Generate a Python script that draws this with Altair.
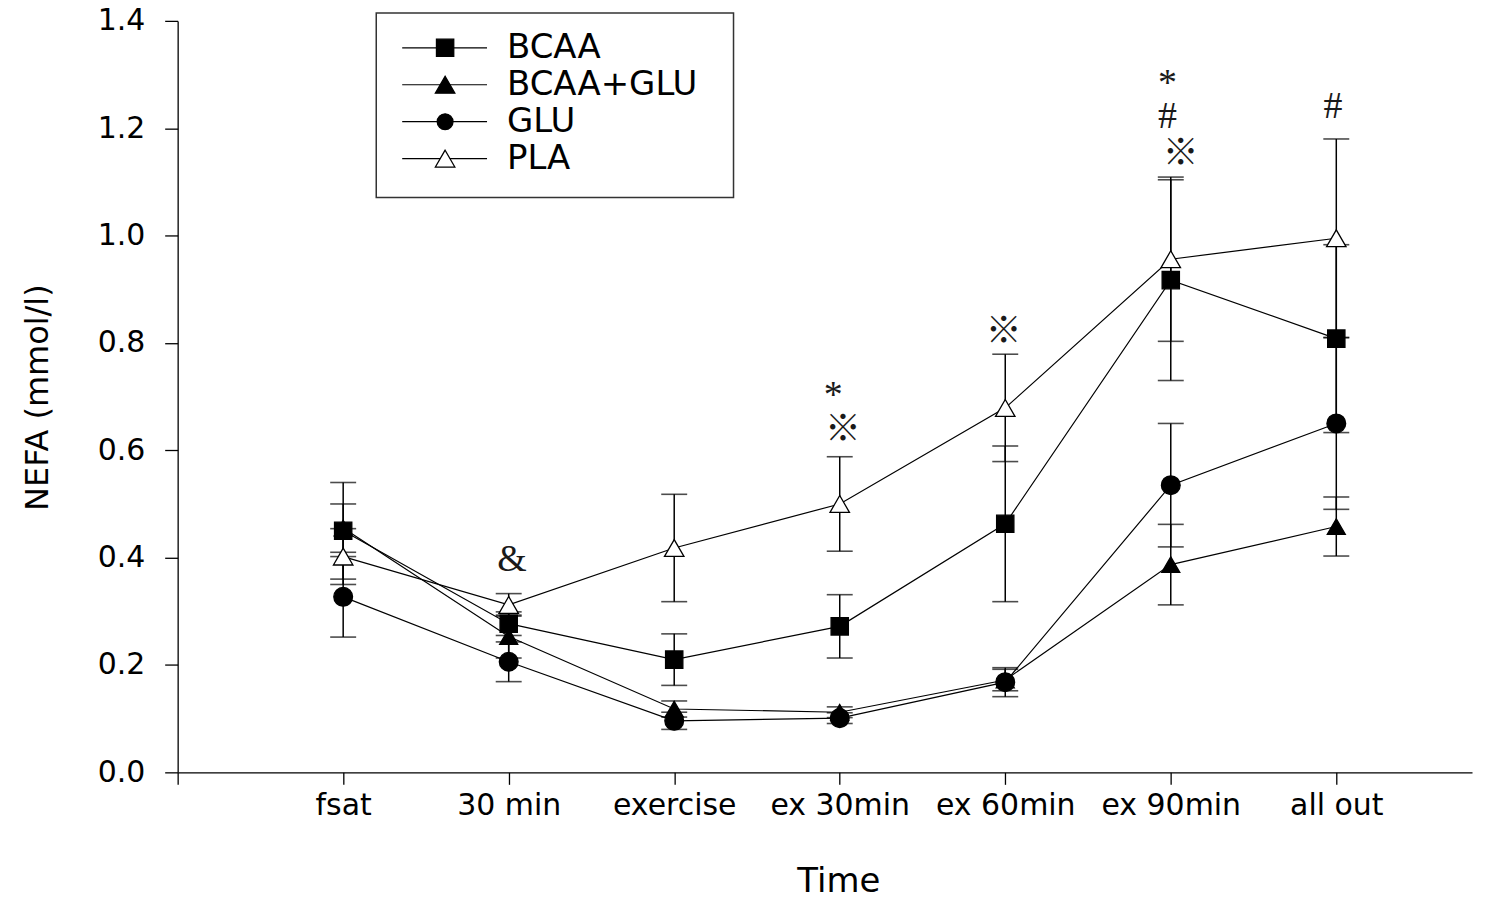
import altair as alt
import pandas as pd

# ---- data ----
times = ["fsat", "30 min", "exercise", "ex 30min", "ex 60min", "ex 90min", "all out"]
series = ["BCAA", "BCAA+GLU", "GLU", "PLA"]

bcaa_mean = [0.450, 0.277, 0.210, 0.272, 0.463, 0.917, 0.808]
bcaa_sd = [0.090, 0.022, 0.048, 0.059, 0.145, 0.187, 0.175]
bg_mean = [0.455, 0.253, 0.118, 0.112, 0.172, 0.387, 0.458]
bg_sd = [0.045, 0.040, 0.015, 0.010, 0.020, 0.075, 0.055]
glu_mean = [0.327, 0.206, 0.096, 0.101, 0.168, 0.535, 0.650]
glu_sd = [0.075, 0.037, 0.016, 0.010, 0.027, 0.115, 0.160]
pla_mean = [0.402, 0.312, 0.418, 0.500, 0.679, 0.956, 0.995]
pla_sd = [0.052, 0.021, 0.100, 0.088, 0.100, 0.153, 0.185]

# significance marks (time position, value level)
ann_text = ["&", "*", "※", "※", "*", "#", "※", "#"]
ann_time = [2.02, 3.96, 4.02, 4.99, 5.98, 5.98, 6.06, 6.98]
ann_value = [0.396, 0.702, 0.638, 0.820, 1.282, 1.220, 1.152, 1.240]

# ---- build tables ----
means = [bcaa_mean, bg_mean, glu_mean, pla_mean]
sds = [bcaa_sd, bg_sd, glu_sd, pla_sd]
rows = []
for s, m, d in zip(series, means, sds):
    for i, t in enumerate(times):
        rows.append({"series": s, "t": i + 1, "time": t, "mean": m[i],
                     "lo": m[i] - d[i], "hi": m[i] + d[i]})
df = pd.DataFrame(rows)
ann = pd.DataFrame({"text": ann_text, "t": ann_time, "v": ann_value})

FONT = "DejaVu Sans"
W, H = 1297, 753

xscale = alt.Scale(domain=[0, 7.82], nice=False, zero=False)
yscale = alt.Scale(domain=[0, 1.4], nice=False, zero=True)

label_expr = "['', 'fsat', '30 min', 'exercise', 'ex 30min', 'ex 60min', 'ex 90min', 'all out'][datum.value]"

x_enc = alt.X("t:Q", scale=xscale,
              axis=alt.Axis(values=[0, 1, 2, 3, 4, 5, 6, 7], labelExpr=label_expr,
                            title="Time", tickSize=12, labelPadding=6,
                            labelFontSize=30, titleFontSize=34,
                            titleX=662, titleY=109, titleBaseline="middle",
                            labelOverlap=False, labelFlush=False))
y_enc = alt.Y("mean:Q", scale=yscale,
              axis=alt.Axis(values=[0, 0.2, 0.4, 0.6, 0.8, 1.0, 1.2, 1.4], format=".1f",
                            title="NEFA (mmol/l)", tickSize=13, labelPadding=20,
                            labelFontSize=30, titleFontSize=32,
                            titleX=-140, titleY=377, titleBaseline="middle"))

base = alt.Chart(df)

lines = base.mark_line(color="black", strokeWidth=1.2).encode(
    x=x_enc, y=y_enc, detail="series:N", order="t:Q")

err = base.mark_rule(color="black", strokeWidth=1.5).encode(
    x=alt.X("t:Q", scale=xscale), y=alt.Y("lo:Q", scale=yscale), y2="hi:Q")

cap_lo = base.mark_tick(orient="horizontal", size=26, thickness=1.6, color="black").encode(
    x=alt.X("t:Q", scale=xscale), y=alt.Y("lo:Q", scale=yscale))
cap_hi = base.mark_tick(orient="horizontal", size=26, thickness=1.6, color="black").encode(
    x=alt.X("t:Q", scale=xscale), y=alt.Y("hi:Q", scale=yscale))

shapes = ["square", "triangle-up", "circle", "triangle-up"]
fills = ["black", "black", "black", "white"]
sizes = [300, 380, 250, 380]

points = base.mark_point(filled=True, stroke="black", strokeWidth=1.3, opacity=1).encode(
    x=alt.X("t:Q", scale=xscale), y=alt.Y("mean:Q", scale=yscale),
    shape=alt.Shape("series:N", scale=alt.Scale(domain=series, range=shapes), legend=None),
    fill=alt.Fill("series:N", scale=alt.Scale(domain=series, range=fills), legend=None),
    size=alt.Size("series:N", scale=alt.Scale(domain=series, range=sizes), legend=None))

ann_serif = alt.Chart(ann).transform_filter("datum.text != '※'").mark_text(
    font="Liberation Serif", fontSize=38, color="#1a1a1a", baseline="middle", align="center").encode(
    x=alt.X("t:Q", scale=xscale), y=alt.Y("v:Q", scale=yscale), text="text:N")
ann_ref = alt.Chart(ann).transform_filter("datum.text == '※'").mark_text(
    font="Noto Sans CJK JP", fontSize=36, color="#1a1a1a", baseline="middle", align="center").encode(
    x=alt.X("t:Q", scale=xscale), y=alt.Y("v:Q", scale=yscale), text="text:N")

# ---- legend (drawn in the top-left of the plot) ----
one = pd.DataFrame({"k": [0]})
legend_layers = [
    alt.Chart(one).mark_rect(fillOpacity=0, stroke="#333333", strokeWidth=1.5).encode(
        x=alt.value(199), x2=alt.value(557), y=alt.value(-8), y2=alt.value(177))
]
leg_y = [27, 64, 101, 138]
for name, shp, fl, sz, ly in zip(series, shapes, fills, sizes, leg_y):
    legend_layers.append(alt.Chart(one).mark_rule(color="black", strokeWidth=1.2).encode(
        x=alt.value(225), x2=alt.value(310), y=alt.value(ly)))
    legend_layers.append(alt.Chart(one).mark_point(
        shape=shp, filled=True, fill=fl, stroke="black", strokeWidth=1.3, size=sz, opacity=1).encode(
        x=alt.value(268), y=alt.value(ly)))
    legend_layers.append(alt.Chart(one).mark_text(
        align="left", baseline="middle", font=FONT, fontSize=34, color="black").encode(
        x=alt.value(330), y=alt.value(ly), text=alt.value(name)))

chart = alt.layer(lines, err, cap_lo, cap_hi, points, ann_serif, ann_ref, *legend_layers).properties(
    width=W, height=H,
    autosize=alt.AutoSizeParams(type="none"),
    padding={"left": 170, "top": 12, "right": 8, "bottom": 126},
).configure_view(stroke=None).configure_axis(
    grid=False, domainColor="black", tickColor="black", labelColor="black", titleColor="black",
    domainWidth=1.3, tickWidth=1.3, labelFont=FONT, titleFont=FONT, titleFontWeight="normal",
)

chart.save("out.html", embed_options={"renderer": "svg", "actions": False})
